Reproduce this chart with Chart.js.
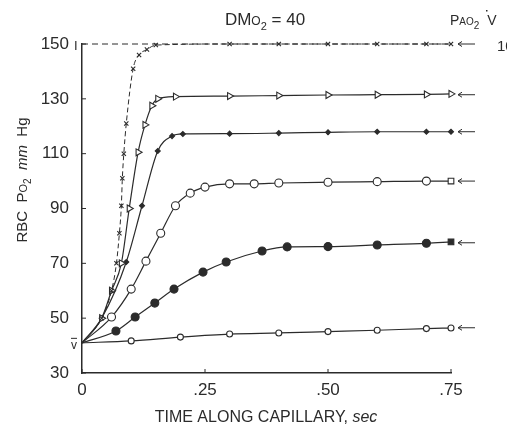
<!DOCTYPE html>
<html>
<head>
<meta charset="utf-8">
<script src="https://cdn.jsdelivr.net/npm/chart.js@4"></script>
<style>
  body { margin: 0; background: #fff; }
  #wrap { width: 507px; height: 428px; }
</style>
</head>
<body>
<div id="wrap"><canvas id="fitChart"></canvas></div>
<script>
// 数据：时间 (sec) 与 RBC Po2 (mm Hg)
const xTimes = [0, 0.04, 0.06, 0.07, 0.076, 0.08, 0.082, 0.085, 0.09, 0.104, 0.116, 0.132, 0.15, 0.3, 0.4, 0.5, 0.6, 0.7, 0.75];
const xPo2 = [41, 50, 60, 70, 81, 91, 101, 110, 121, 141, 146, 148, 149.6, 150, 150, 150, 150, 150, 150];

const triTimes = [0, 0.04, 0.06, 0.08, 0.096, 0.114, 0.128, 0.142, 0.154, 0.19, 0.3, 0.4, 0.5, 0.6, 0.7, 0.75];
const triPo2 = [41, 50, 60, 70, 90, 110.5, 120.5, 127.5, 130, 130.8, 131, 131.2, 131.4, 131.5, 131.6, 131.8];

const dotTimes = [0, 0.04, 0.09, 0.122, 0.154, 0.183, 0.205, 0.3, 0.4, 0.5, 0.6, 0.7, 0.75];
const dotPo2 = [41, 50, 70.5, 91, 111, 116.4, 117.2, 117.3, 117.5, 117.8, 118, 118, 118];

const circTimes = [0, 0.06, 0.1, 0.13, 0.16, 0.19, 0.22, 0.25, 0.3, 0.35, 0.4, 0.5, 0.6, 0.7, 0.75];
const circPo2 = [41, 50.4, 60.6, 70.8, 81, 91, 95.6, 97.8, 99, 99, 99.3, 99.6, 99.8, 100, 100];

const fillTimes = [0, 0.069, 0.108, 0.148, 0.187, 0.246, 0.293, 0.366, 0.417, 0.5, 0.6, 0.7, 0.75];
const fillPo2 = [41, 45.3, 50.4, 55.5, 60.6, 66.8, 70.5, 74.5, 76, 76.1, 76.7, 77.3, 77.8];

const slowTimes = [0, 0.1, 0.2, 0.3, 0.4, 0.5, 0.6, 0.7, 0.75];
const slowPo2 = [41, 41.7, 43.1, 44.2, 44.6, 45.1, 45.6, 46.2, 46.4];

// 右侧箭头：PAo2
const pao2Levels = [150, 131.5, 118, 100, 77.5, 46.5];

const xTicks = [0, 0.25, 0.5, 0.75];
const xTickLabels = ['0', '.25', '.50', '.75'];
const yTicks = [30, 50, 70, 90, 110, 130, 150];

const INK = '#2b2b2b';
const FONT = "'Liberation Sans Narrow', 'Liberation Sans', sans-serif";

function pts(ts, vs) {
    return ts.map((t, i) => ({x: t, y: vs[i]}));
}

function series(ts, vs, extra) {
    const r = extra.pointRadius || 3.5;
    return Object.assign({
        data: pts(ts, vs),
        borderColor: INK,
        borderWidth: 1.2,
        pointBorderColor: INK,
        pointBorderWidth: 1.1,
        pointBackgroundColor: '#fff',
        tension: 0.4,
        cubicInterpolationMode: 'monotone',
        clip: false
    }, extra, {
        // 起点 v̄ 不画标记
        pointRadius: c => c.dataIndex === 0 ? 0 : r
    });
}

function lastStyle(n, style, lastOne) {
    const a = [];
    for (let i = 0; i < n; i++) a.push(i === n - 1 ? lastOne : style);
    return a;
}

const datasets = [
    // 150 虚线
    {
        data: pts([0, 0.75], [150, 150]),
        borderColor: INK, borderWidth: 1, borderDash: [6, 4],
        pointRadius: 0, clip: false
    },
    series(xTimes, xPo2, {pointStyle: 'crossRot', pointRadius: 3, borderDash: [5, 3], borderWidth: 1}),
    series(triTimes, triPo2, {pointStyle: 'triangle', rotation: 90, pointRadius: 4}),
    series(dotTimes, dotPo2, {pointStyle: 'rectRot', pointRadius: 2.5, pointBackgroundColor: INK}),
    series(circTimes, circPo2, {pointStyle: lastStyle(circTimes.length, 'circle', 'rect'), pointRadius: 4}),
    series(fillTimes, fillPo2, {pointStyle: lastStyle(fillTimes.length, 'circle', 'rect'), pointRadius: 4, pointBackgroundColor: INK}),
    series(slowTimes, slowPo2, {pointStyle: 'circle', pointRadius: 3})
];

function drawRuns(ctx, x, y, runs, align) {
    let w = 0;
    runs.forEach(r => { ctx.font = (r.italic ? 'italic ' : '') + r.size + 'px ' + FONT; w += ctx.measureText(r.t).width; });
    let cx = align === 'center' ? x - w / 2 : x;
    runs.forEach(r => {
        ctx.font = (r.italic ? 'italic ' : '') + r.size + 'px ' + FONT;
        ctx.fillText(r.t, cx, y + (r.dy || 0));
        cx += ctx.measureText(r.t).width;
    });
}

const decor = {
    id: 'decor',
    afterDraw(chart) {
        const ctx = chart.ctx;
        const xs = chart.scales.x, ys = chart.scales.y;
        const area = chart.chartArea;
        ctx.save();
        ctx.strokeStyle = INK;
        ctx.fillStyle = INK;
        ctx.lineWidth = 1;
        // 向内刻度
        yTicks.forEach(v => {
            const py = ys.getPixelForValue(v);
            ctx.beginPath(); ctx.moveTo(area.left, py); ctx.lineTo(area.left + 4, py); ctx.stroke();
        });
        xTicks.forEach(v => {
            const px = xs.getPixelForValue(v);
            ctx.beginPath(); ctx.moveTo(px, area.bottom); ctx.lineTo(px, area.bottom - 4); ctx.stroke();
        });
        // 箭头
        pao2Levels.forEach(v => {
            const py = ys.getPixelForValue(v);
            const x0 = area.right + 7, x1 = area.right + 24;
            ctx.beginPath(); ctx.moveTo(x0, py); ctx.lineTo(x1, py); ctx.stroke();
            ctx.beginPath(); ctx.moveTo(x0 + 4, py - 2.5); ctx.lineTo(x0, py); ctx.lineTo(x0 + 4, py + 2.5); ctx.stroke();
        });
        ctx.textBaseline = 'alphabetic';
        ctx.textAlign = 'left';
        // 标题
        drawRuns(ctx, 265, 25, [
            {t: 'DM', size: 17}, {t: 'O', size: 12}, {t: '2', size: 11, dy: 5}, {t: ' = 40', size: 17}
        ], 'center');
        drawRuns(ctx, 450, 25, [
            {t: 'P', size: 14}, {t: 'AO', size: 10}, {t: '2', size: 10, dy: 4}, {t: '  V', size: 14}
        ], 'left');
        ctx.fillRect(486, 10, 1.5, 1.5);
        drawRuns(ctx, 497, 51, [{t: '10', size: 15}], 'left');
        // v̄ 与 I
        const vy = ys.getPixelForValue(41);
        drawRuns(ctx, 71, vy + 6, [{t: 'v', size: 12}], 'left');
        ctx.fillRect(71, vy - 5, 6, 1);
        drawRuns(ctx, 74, ys.getPixelForValue(150) + 6, [{t: 'I', size: 13}], 'left');
        // x 轴标题
        drawRuns(ctx, 266, 422, [
            {t: 'TIME ALONG CAPILLARY, ', size: 16}, {t: 'sec', size: 16, italic: true}
        ], 'center');
        // y 轴标题
        ctx.translate(27, 180);
        ctx.rotate(-Math.PI / 2);
        drawRuns(ctx, 0, 0, [
            {t: 'RBC  P', size: 15}, {t: 'O', size: 11}, {t: '2', size: 10, dy: 4},
            {t: '  ', size: 15}, {t: 'mm', size: 15, italic: true}, {t: '  Hg', size: 15}
        ], 'center');
        ctx.restore();
    }
};

var ctx = document.getElementById('fitChart').getContext('2d');
var chart = new Chart(ctx, {
    type: 'line',
    data: {datasets: datasets},
    plugins: [decor],
    options: {
        responsive: true,
        maintainAspectRatio: false,
        animation: false,
        layout: {padding: {top: 44, right: 56, left: 0, bottom: 0}},
        plugins: {legend: {display: false}, tooltip: {enabled: false}},
        scales: {
            x: {
                type: 'linear', min: 0, max: 0.75,
                afterFit: s => { s.height = 55; },
                afterBuildTicks: s => { s.ticks = xTicks.map(v => ({value: v})); },
                grid: {display: false, drawTicks: false},
                border: {display: true, color: INK, width: 1.5},
                ticks: {
                    padding: 7, color: INK, font: {family: FONT, size: 17},
                    callback: (v) => xTickLabels[xTicks.indexOf(v)] ?? ''
                }
            },
            y: {
                type: 'linear', min: 30, max: 150,
                afterFit: s => { s.width = 82; },
                afterBuildTicks: s => { s.ticks = yTicks.map(v => ({value: v})); },
                grid: {display: false, drawTicks: false},
                border: {display: true, color: INK, width: 1.5},
                ticks: {padding: 13, color: INK, font: {family: FONT, size: 17}}
            }
        }
    }
});
</script>
</body>
</html>
